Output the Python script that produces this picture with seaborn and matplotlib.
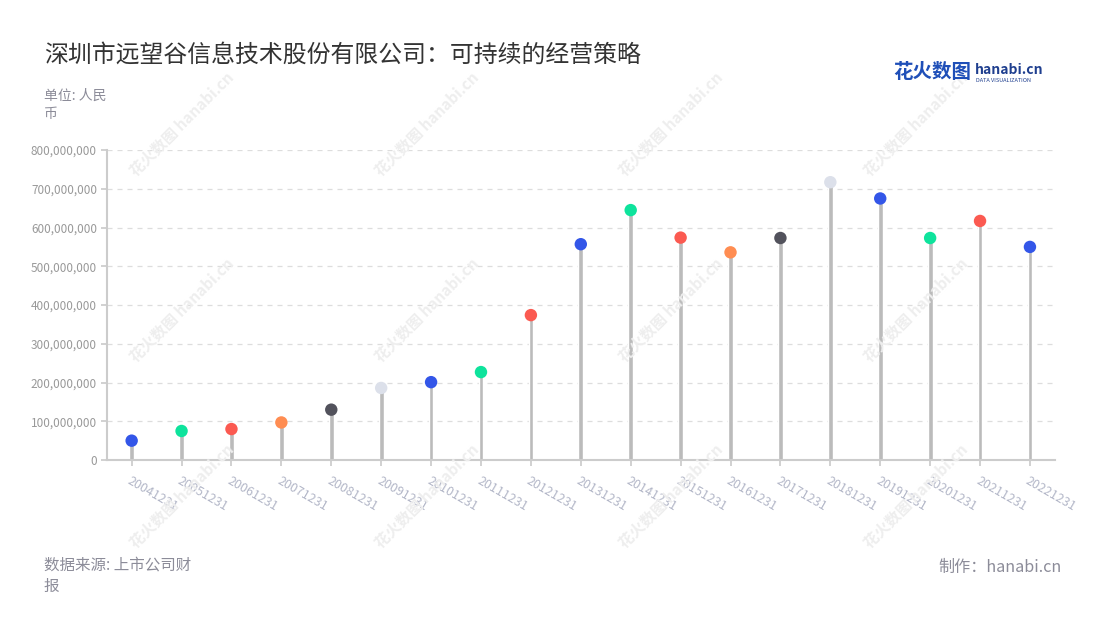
import matplotlib
matplotlib.use("Agg")
import matplotlib.pyplot as plt
import matplotlib.ticker as mticker
import seaborn as sns
import pandas as pd

# data
years = ["20041231", "20051231", "20061231", "20071231", "20081231", "20091231",
         "20101231", "20111231", "20121231", "20131231", "20141231", "20151231",
         "20161231", "20171231", "20181231", "20191231", "20201231", "20211231",
         "20221231"]
values = [50e6, 75e6, 80e6, 97e6, 130e6, 186e6, 201e6, 227e6, 374e6, 557e6,
          645e6, 574e6, 536e6, 573e6, 717e6, 675e6, 573e6, 617e6, 550e6]
dot_colors = ["#3356e8", "#0ee39c", "#fb5a51", "#ff8d52", "#52525c", "#dce0ea",
              "#3356e8", "#0ee39c", "#fb5a51", "#3356e8", "#0ee39c", "#fb5a51",
              "#ff8d52", "#52525c", "#dce0ea", "#3356e8", "#0ee39c", "#fb5a51",
              "#3356e8"]

title = "深圳市远望谷信息技术股份有限公司：可持续的经营策略"
unit = "单位: 人民\n币"
source = "数据来源: 上市公司财\n报"
credit = "制作：hanabi.cn"

sns.set_theme(style="white")
plt.rcParams['font.family'] = ['Noto Sans CJK SC', 'DejaVu Sans']

df = pd.DataFrame({"year": years, "value": values})

fig = plt.figure(figsize=(11, 6.2), dpi=100)
ax = fig.add_axes([0.097, 0.258, 0.862, 0.5])

# stems
sns.barplot(data=df, x="year", y="value", color="#bbbbbb", width=0.095,
            saturation=1, ax=ax, zorder=2)
# dots
sns.scatterplot(data=df, x="year", y="value", hue="year", palette=dot_colors,
                s=80, linewidth=0, legend=False, ax=ax, zorder=3, clip_on=False)

ax.set_xlim(-0.5, len(years) - 0.5)
ax.set_ylim(0, 800e6)
ax.yaxis.set_major_locator(mticker.MultipleLocator(100e6))
ax.yaxis.set_major_formatter(mticker.FuncFormatter(lambda v, p: f"{int(v):,}"))
ax.grid(axis="y", color="#dddddd", linestyle=(0, (4, 4)), linewidth=0.9, zorder=0)
ax.set_axisbelow(True)
ax.set_xlabel("")
ax.set_ylabel("")

for s in ["top", "right"]:
    ax.spines[s].set_visible(False)
for s in ["left", "bottom"]:
    ax.spines[s].set_color("#cccccc")
    ax.spines[s].set_linewidth(1.5)

ax.tick_params(axis="y", length=4, color="#cccccc", labelsize=8.5,
               labelcolor="#999999", pad=3, left=True)
ax.tick_params(axis="x", length=4, color="#cccccc", labelsize=9,
               labelcolor="#b3b7c8", pad=6, bottom=True)
for lab in ax.get_xticklabels():
    lab.set_rotation(-30)
    lab.set_ha("left")
    lab.set_va("top")
    lab.set_rotation_mode("anchor")

# watermarks
for wx in [0.165, 0.388, 0.61, 0.833]:
    for wy in [0.80, 0.50, 0.20]:
        fig.text(wx, wy, "花火数图 hanabi.cn", rotation=45, fontsize=11,
                 color="#eeeeee", ha="center", va="center", fontweight="bold",
                 zorder=0)

# titles and notes
fig.text(44 / 1100, 1 - 55 / 620, title, fontsize=17.2, color="#333333",
         ha="left", va="center")
fig.text(44 / 1100, 1 - 89 / 620, unit, fontsize=10, color="#8c8c99",
         ha="left", va="top", linespacing=1.35)
fig.text(44 / 1100, 1 - 557 / 620, source, fontsize=11.2, color="#8c8c99",
         ha="left", va="top", linespacing=1.3)
fig.text(1062 / 1100, 1 - 567 / 620, credit, fontsize=11.6, color="#8c8c99",
         ha="right", va="center")

# logo
fig.text(893 / 1100, 1 - 73 / 620, "花火数图", fontsize=14, color="#1f4fb8",
         fontweight="bold", ha="left", va="center")
fig.text(975 / 1100, 1 - 70 / 620, "hanabi.cn", fontsize=10, color="#1f3f8f",
         fontweight="bold", ha="left", va="center")
fig.text(976 / 1100, 1 - 80 / 620, "DATA VISUALIZATION", fontsize=4, color="#1f3f8f",
         ha="left", va="center")

fig.savefig("out.png", dpi=100, facecolor="white")
